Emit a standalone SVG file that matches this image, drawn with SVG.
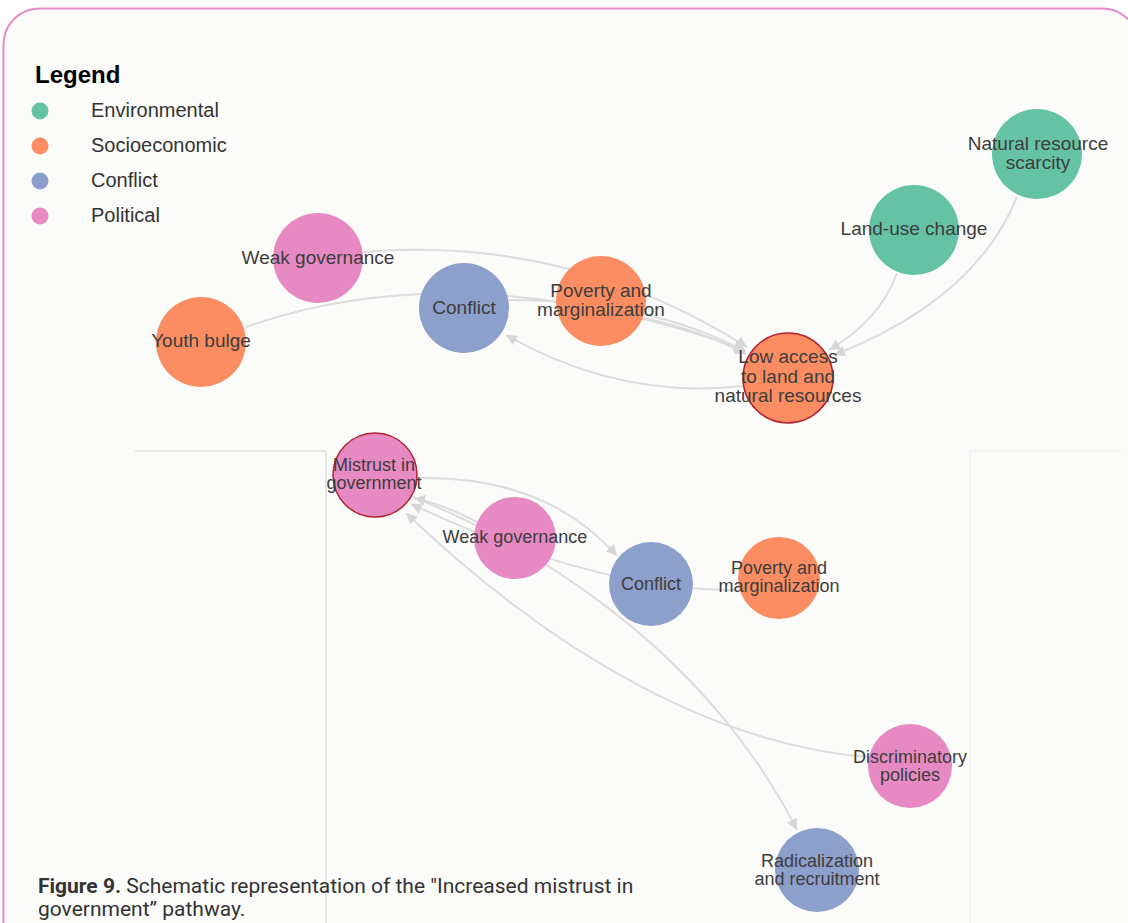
<svg xmlns="http://www.w3.org/2000/svg" width="1128" height="923" viewBox="0 0 1128 923">
<style>
.lbl{font-family:"Liberation Sans",Arial,sans-serif;fill:#3d3d3d;text-anchor:middle}
.top{font-size:19px}
.bot{font-size:18px}
.leg{font-family:"Liberation Sans",Arial,sans-serif;font-size:20px;fill:#333}
.edge{fill:none;stroke:#dcdcdc;stroke-width:2}
.env{fill:#66c2a5}.soc{fill:#fc8d62}.con{fill:#8da0cb}.pol{fill:#e78ac3}
.focus{stroke:#b2222f;stroke-width:1.5}
.cap{font-family:Roboto,"Liberation Sans",sans-serif;font-size:21px;fill:#333}
</style>
<defs>
<marker id="arr" viewBox="0 0 10 10" refX="10" refY="5" markerWidth="11" markerHeight="11" markerUnits="userSpaceOnUse" orient="auto">
<path d="M0,0 L10,5 L0,10 z" fill="#d6d6d6"/>
</marker>
</defs>
<rect x="0" y="0" width="1128" height="923" fill="#ffffff"/>
<rect x="3.5" y="8.5" width="1135" height="980" rx="36" fill="#fbfbf9" stroke="#e68bc8" stroke-width="2"/>
<g id="panels" fill="none">
<path d="M135,451 H326 V923" stroke="#cfcfcf" stroke-width="1"/>
<path d="M1121,451 H970 V923" stroke="#ececec" stroke-width="1"/>
</g>
<g id="legend">
<text x="35" y="83" font-family="Liberation Sans,Arial,sans-serif" font-weight="bold" font-size="24" fill="#000">Legend</text>
<circle cx="40" cy="111" r="8.5" class="env"/>
<circle cx="40" cy="146" r="8.5" class="soc"/>
<circle cx="40" cy="181" r="8.5" class="con"/>
<circle cx="40" cy="216" r="8.5" class="pol"/>
<text x="91" y="117" class="leg">Environmental</text>
<text x="91" y="152" class="leg">Socioeconomic</text>
<text x="91" y="187" class="leg">Conflict</text>
<text x="91" y="222" class="leg">Political</text>
</g>
<g id="connectors">
<path class="edge" d="M363,252 Q570,235 747,347" marker-end="url(#arr)"/>
<path class="edge" d="M246,327 Q465,250 745,350" marker-end="url(#arr)"/>
<path class="edge" d="M509,300 Q650,300 746,352" marker-end="url(#arr)"/>
<path class="edge" d="M644,318 Q700,330 746,354" marker-end="url(#arr)"/>
<path class="edge" d="M743,386 Q620,400 506,335" marker-end="url(#arr)"/>
<path class="edge" d="M897,273 Q880,320 829,350" marker-end="url(#arr)"/>
<path class="edge" d="M1017,197 Q975,300 834,355" marker-end="url(#arr)"/>
<path class="edge" d="M417,478 Q545,475 617,556" marker-end="url(#arr)"/>
<path class="edge" d="M477,522 Q445,505 414,498" marker-end="url(#arr)"/>
<path class="edge" d="M738,590 Q600,592 411,504" marker-end="url(#arr)"/>
<path class="edge" d="M413,497 C520,540 700,640 797,830" marker-end="url(#arr)"/>
<path class="edge" d="M868,757 C720,745 560,660 406,513" marker-end="url(#arr)"/>
</g>
<g id="n-weak-gov-1"><circle cx="318" cy="258" r="45" class="pol"/><text class="lbl top" x="318" y="264">Weak governance</text></g>
<g id="n-youth"><circle cx="201" cy="342" r="45" class="soc"/><text class="lbl top" x="201" y="347">Youth bulge</text></g>
<g id="n-conflict-1"><circle cx="464" cy="308" r="45" class="con"/><text class="lbl top" x="464" y="314">Conflict</text></g>
<g id="n-poverty-1"><circle cx="601" cy="301" r="45" class="soc"/><text class="lbl top" x="601" y="297">Poverty and</text><text class="lbl top" x="601" y="316">marginalization</text></g>
<g id="n-low-access"><circle cx="788" cy="378" r="45" class="soc focus"/><text class="lbl top" x="788" y="363">Low access</text><text class="lbl top" x="788" y="383">to land and</text><text class="lbl top" x="788" y="402">natural resources</text></g>
<g id="n-land-use"><circle cx="914" cy="230" r="45" class="env"/><text class="lbl top" x="914" y="235">Land-use change</text></g>
<g id="n-nat-res"><circle cx="1037" cy="154" r="45" class="env"/><text class="lbl top" x="1038" y="150">Natural resource</text><text class="lbl top" x="1038" y="169">scarcity</text></g>
<g id="n-mistrust"><circle cx="375" cy="475" r="42" class="pol focus"/><text class="lbl bot" x="374" y="471">Mistrust in</text><text class="lbl bot" x="374" y="489">government</text></g>
<g id="n-weak-gov-2"><circle cx="515" cy="538" r="41" class="pol"/><text class="lbl bot" x="515" y="543">Weak governance</text></g>
<g id="n-conflict-2"><circle cx="651" cy="584" r="42" class="con"/><text class="lbl bot" x="651" y="590">Conflict</text></g>
<g id="n-poverty-2"><circle cx="779" cy="578" r="41" class="soc"/><text class="lbl bot" x="779" y="574">Poverty and</text><text class="lbl bot" x="779" y="592">marginalization</text></g>
<g id="n-discrim"><circle cx="910" cy="766" r="42" class="pol"/><text class="lbl bot" x="910" y="763">Discriminatory</text><text class="lbl bot" x="910" y="781">policies</text></g>
<g id="n-radical"><circle cx="817" cy="870" r="42" class="con"/><text class="lbl bot" x="817" y="867">Radicalization</text><text class="lbl bot" x="817" y="885">and recruitment</text></g>
<g id="caption">
<text class="cap" x="38" y="893"><tspan font-weight="bold">Figure 9.</tspan> Schematic representation of the "Increased mistrust in</text>
<text class="cap" x="38" y="916">government” pathway.</text>
</g>
</svg>
